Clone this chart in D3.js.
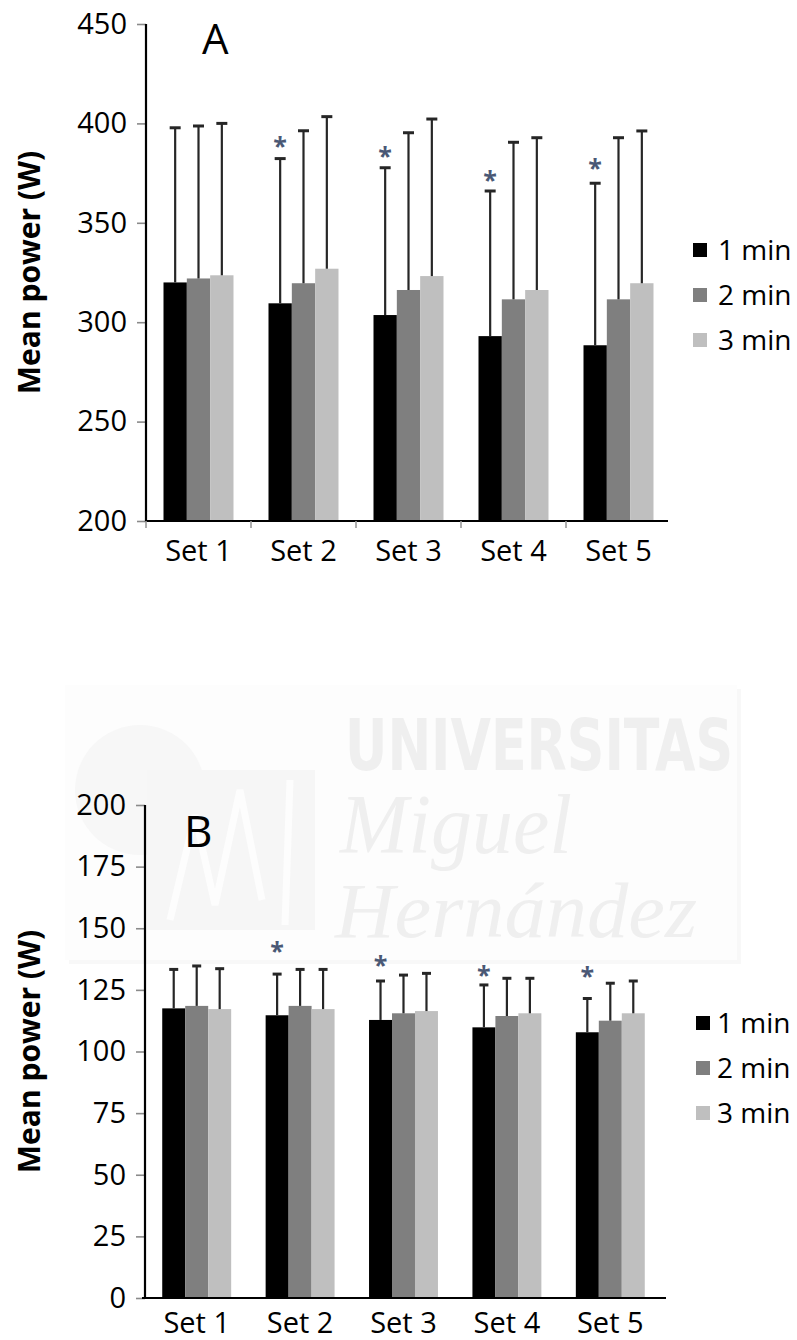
<!DOCTYPE html>
<html>
<head>
<meta charset="utf-8">
<script src="https://cdn.jsdelivr.net/npm/d3@7"></script>
<style>
  body { margin: 0; background: #fff; }
  svg { display: block; font-family: "Open Sans", sans-serif; }
</style>
</head>
<body>
<div id="chart"></div>
<script>
const sets = ["Set 1", "Set 2", "Set 3", "Set 4", "Set 5"];
const durations = ["1 min", "2 min", "3 min"];

// Panel A: mean power (W) and SD
const meanA1 = [320, 309.5, 303.6, 293, 288.4];
const meanA2 = [322, 319.6, 316.2, 311.5, 311.5];
const meanA3 = [323.6, 326.9, 323.2, 316.2, 319.6];
const sdA1 = [77.8, 72.8, 74.1, 73, 81.5];
const sdA2 = [76.7, 76.7, 79.1, 79, 81.3];
const sdA3 = [76.4, 76.5, 79, 76.6, 76.6];
const starA = [null, 391, 386, 374, 380]; // asterisk height, 1 min bars
const ticksA = [200, 250, 300, 350, 400, 450];

// Panel B
const meanB1 = [117.5, 114.7, 112.8, 109.8, 107.8];
const meanB2 = [118.5, 118.5, 115.5, 114.4, 112.5];
const meanB3 = [117.2, 117.2, 116.4, 115.5, 115.5];
const sdB1 = [15.8, 16.7, 15.8, 17.2, 13.7];
const sdB2 = [16.2, 14.8, 15.5, 15.3, 15.2];
const sdB3 = [16.4, 16.1, 15.3, 14.2, 13.1];
const starB = [null, 143, 137, 133, 132.5];
const ticksB = [0, 25, 50, 75, 100, 125, 150, 175, 200];

const width = 797, height = 1340;
const color = d3.scaleOrdinal(durations, ["#000000", "#7f7f7f", "#bfbfbf"]);

const svg = d3.select("#chart").append("svg").attr("width", width).attr("height", height);
svg.append("rect").attr("width", width).attr("height", height).attr("fill", "#fff");

// faint university watermark behind panel B
const wm = svg.append("g");
wm.append("rect").attr("x", 69).attr("y", 689).attr("width", 672).attr("height", 275).attr("fill", "#f8f8f8");
wm.append("rect").attr("x", 65).attr("y", 685).attr("width", 672).attr("height", 275).attr("fill", "#fdfdfd");
wm.append("circle").attr("cx", 140).attr("cy", 790).attr("r", 65).attr("fill", "#f7f7f7");
wm.append("rect").attr("x", 147).attr("y", 770).attr("width", 168).attr("height", 160).attr("fill", "#f6f6f6");
wm.append("path")
  .attr("d", "M170,920 L195,815 L215,905 L240,790 L262,900 M290,780 L285,925")
  .attr("fill", "none").attr("stroke", "#fdfdfd").attr("stroke-width", 7);
wm.append("text").attr("x", 345).attr("y", 770).attr("font-size", 72).attr("font-weight", "bold")
  .attr("font-family", "'Liberation Sans Narrow', 'DejaVu Sans Condensed', sans-serif")
  .attr("textLength", 388).attr("lengthAdjust", "spacingAndGlyphs")
  .attr("fill", "#efefef").text("UNIVERSITAS");
wm.append("text").attr("x", 340).attr("y", 853).attr("font-size", 84).attr("font-style", "italic")
  .attr("font-family", "'Liberation Serif', serif")
  .attr("textLength", 232).attr("lengthAdjust", "spacingAndGlyphs")
  .attr("fill", "#efefef").text("Miguel");
wm.append("text").attr("x", 335).attr("y", 937).attr("font-size", 78).attr("font-style", "italic")
  .attr("font-family", "'Liberation Serif', serif")
  .attr("textLength", 362).attr("lengthAdjust", "spacingAndGlyphs")
  .attr("fill", "#efefef").text("Hernández");

function drawPanel(o) {
  const g = svg.append("g");
  const series = durations.map((d, i) => ({ key: d, mean: o.means[i], sd: o.sds[i] }));
  const y = d3.scaleLinear().domain(o.domain).range([o.bottom, o.top]);
  const x0 = d3.scaleBand().domain(sets)
    .range([o.left, o.left + o.step * sets.length])
    .paddingInner(1 / 3).paddingOuter(1 / 6);
  const x1 = d3.scaleBand().domain(durations).range([0, x0.bandwidth()]);

  // bars
  const groups = g.selectAll("g.set").data(sets).join("g")
    .attr("transform", (s) => `translate(${x0(s)},0)`);
  groups.selectAll("rect")
    .data((s, i) => series.map((d) => ({ key: d.key, mean: d.mean[i], sd: d.sd[i] })))
    .join("rect")
    .attr("x", (d) => x1(d.key))
    .attr("width", x1.bandwidth())
    .attr("y", (d) => y(d.mean))
    .attr("height", (d) => o.bottom - y(d.mean))
    .attr("fill", (d) => color(d.key));

  // upper SD whiskers
  const err = groups.selectAll("g.err")
    .data((s, i) => series.map((d) => ({ key: d.key, mean: d.mean[i], sd: d.sd[i] })))
    .join("g").attr("stroke", "#262626");
  err.append("line")
    .attr("x1", (d) => x1(d.key) + x1.bandwidth() / 2)
    .attr("x2", (d) => x1(d.key) + x1.bandwidth() / 2)
    .attr("y1", (d) => y(d.mean))
    .attr("y2", (d) => y(d.mean + d.sd))
    .attr("stroke-width", 2.2);
  err.append("line")
    .attr("x1", (d) => x1(d.key) + x1.bandwidth() / 2 - o.cap / 2)
    .attr("x2", (d) => x1(d.key) + x1.bandwidth() / 2 + o.cap / 2)
    .attr("y1", (d) => y(d.mean + d.sd))
    .attr("y2", (d) => y(d.mean + d.sd))
    .attr("stroke-width", 3);

  // significance asterisks
  g.selectAll("text.star")
    .data(sets.map((s, i) => ({ set: s, v: o.stars[i] })).filter((d) => d.v != null))
    .join("text")
    .attr("x", (d) => x0(d.set) + x1("1 min") + x1.bandwidth() / 2)
    .attr("y", (d) => y(d.v) + 14)
    .attr("text-anchor", "middle")
    .attr("font-size", 25)
    .attr("font-weight", "bold")
    .attr("fill", "#4a5875")
    .text("*");

  // y axis
  const yAxis = g.append("g")
    .attr("transform", `translate(${o.axisX},0)`)
    .call(d3.axisLeft(y).tickValues(o.ticks).tickSize(9).tickPadding(10).tickSizeOuter(0));
  yAxis.select(".domain").remove();
  yAxis.selectAll(".tick line").attr("stroke", "#8a8a8a").attr("stroke-width", 1.6);
  yAxis.selectAll(".tick text").attr("font-size", 29).attr("fill", "#000")
    .attr("font-family", "'Open Sans', sans-serif");
  g.append("line")
    .attr("x1", o.axisX).attr("x2", o.axisX)
    .attr("y1", y(o.domain[1])).attr("y2", o.bottom + 1)
    .attr("stroke", "#000").attr("stroke-width", 2.2);

  // x axis
  g.append("line")
    .attr("x1", o.xAxisStart).attr("x2", o.xAxisEnd)
    .attr("y1", o.bottom).attr("y2", o.bottom)
    .attr("stroke", "#000").attr("stroke-width", 2.2);
  if (o.xTicks) {
    g.selectAll("line.xt")
      .data(sets.map((s, i) => o.left + i * o.step))
      .join("line")
      .attr("x1", (d) => d).attr("x2", (d) => d)
      .attr("y1", o.bottom).attr("y2", o.bottom + 7)
      .attr("stroke", "#9a9a9a").attr("stroke-width", 1.6);
  }
  g.selectAll("text.xl").data(sets).join("text")
    .attr("x", (s) => x0(s) + x0.bandwidth() / 2)
    .attr("y", o.labelY)
    .attr("text-anchor", "middle")
    .attr("font-size", 29)
    .text((s) => s);

  // y axis title
  g.append("text")
    .attr("transform", `translate(40,${(o.top + o.bottom) / 2}) rotate(-90)`)
    .attr("text-anchor", "middle")
    .attr("font-size", 30)
    .attr("font-weight", "bold")
    .text("Mean power (W)");

  // panel letter
  g.append("text")
    .attr("x", o.letterX).attr("y", o.letterY)
    .attr("font-size", o.letterSize)
    .text(o.letter);

  // legend
  const lg = g.append("g").selectAll("g").data(durations).join("g")
    .attr("transform", (d, i) => `translate(${o.legendX},${o.legendY + i * 45})`);
  lg.append("rect").attr("x", 0).attr("y", -7).attr("width", 14).attr("height", 14)
    .attr("fill", (d) => color(d));
  lg.append("text").attr("x", o.legendGap).attr("y", 0).attr("dy", "0.35em")
    .attr("font-size", 28).text((d) => d);
}

drawPanel({
  means: [meanA1, meanA2, meanA3], sds: [sdA1, sdA2, sdA3], stars: starA,
  domain: [200, 450], ticks: ticksA, top: 24, bottom: 521,
  left: 146, step: 105, axisX: 146, xAxisStart: 146, xAxisEnd: 668, xTicks: true,
  labelY: 561, cap: 11,
  letter: "A", letterX: 202, letterY: 54, letterSize: 42,
  legendX: 693, legendY: 250, legendGap: 25
});

drawPanel({
  means: [meanB1, meanB2, meanB3], sds: [sdB1, sdB2, sdB3], stars: starB,
  domain: [0, 200], ticks: ticksB, top: 805, bottom: 1298,
  left: 145, step: 103.4, axisX: 145, xAxisStart: 142, xAxisEnd: 666, xTicks: false,
  labelY: 1333, cap: 9,
  letter: "B", letterX: 184, letterY: 847, letterSize: 44,
  legendX: 696, legendY: 1023, legendGap: 21
});
</script>
</body>
</html>
